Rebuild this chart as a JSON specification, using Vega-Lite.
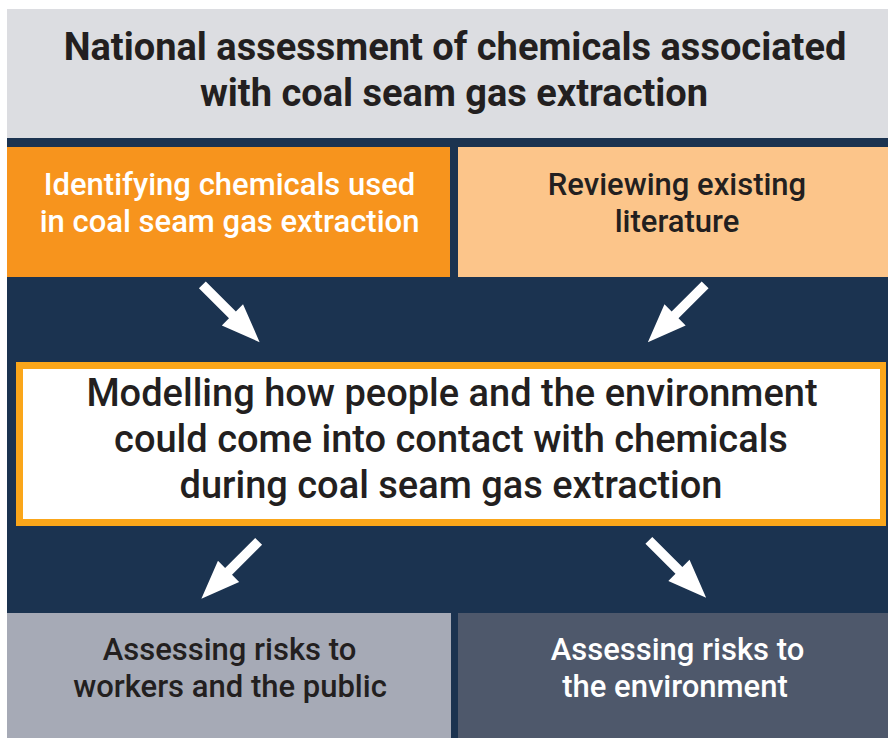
{
  "$schema": "https://vega.github.io/schema/vega-lite/v6.json",
  "width": 888,
  "height": 738,
  "padding": 0,
  "autosize": {"type": "none"},
  "background": "white",
  "config": {"view": {"stroke": null}},
  "datasets": {
    "boxes": [
      {"name": "header", "x0": 7, "x1": 888, "y0": 9, "y1": 138},
      {"name": "background", "x0": 7, "x1": 888, "y0": 138, "y1": 738},
      {"name": "identify", "x0": 7, "x1": 450, "y0": 147, "y1": 277},
      {"name": "review", "x0": 458, "x1": 888, "y0": 147, "y1": 277},
      {"name": "model_border", "x0": 16, "x1": 886, "y0": 362, "y1": 526},
      {"name": "model", "x0": 23, "x1": 880, "y0": 369, "y1": 519},
      {"name": "workers", "x0": 7, "x1": 451, "y0": 613, "y1": 738},
      {"name": "environment", "x0": 458, "x1": 888, "y0": 613, "y1": 738}
    ],
    "arrows": [
      {"from": "identify", "to": "model", "x": 231, "y": 313.5, "angle": 45},
      {"from": "review", "to": "model", "x": 676.5, "y": 313.5, "angle": 135},
      {"from": "model", "to": "workers", "x": 230, "y": 570, "angle": 135},
      {"from": "model", "to": "environment", "x": 677.5, "y": 569, "angle": 45}
    ],
    "labels": [
      {"group": "title", "line": "National assessment of chemicals associated", "x": 455, "y": 60},
      {"group": "title", "line": "with coal seam gas extraction", "x": 454, "y": 106},
      {"group": "identify", "line": "Identifying chemicals used", "x": 229.5, "y": 195},
      {"group": "identify", "line": "in coal seam gas extraction", "x": 229.5, "y": 232},
      {"group": "review", "line": "Reviewing existing", "x": 677, "y": 195},
      {"group": "review", "line": "literature", "x": 677, "y": 232},
      {"group": "model", "line": "Modelling how people and the environment", "x": 452, "y": 406},
      {"group": "model", "line": "could come into contact with chemicals", "x": 451, "y": 452},
      {"group": "model", "line": "during coal seam gas extraction", "x": 451, "y": 498},
      {"group": "workers", "line": "Assessing risks to", "x": 229.5, "y": 660},
      {"group": "workers", "line": "workers and the public", "x": 230, "y": 697},
      {"group": "environment", "line": "Assessing risks to", "x": 677.5, "y": 660},
      {"group": "environment", "line": "the environment", "x": 675, "y": 697}
    ]
  },
  "layer": [
    {
      "data": {"name": "boxes"},
      "mark": {"type": "rect", "strokeWidth": 0},
      "encoding": {
        "x": {"field": "x0", "type": "quantitative", "scale": {"domain": [0, 888], "nice": false, "zero": false}, "axis": null},
        "x2": {"field": "x1"},
        "y": {"field": "y0", "type": "quantitative", "scale": {"domain": [0, 738], "nice": false, "zero": false, "reverse": true}, "axis": null},
        "y2": {"field": "y1"},
        "color": {
          "field": "name",
          "type": "nominal",
          "legend": null,
          "scale": {
            "domain": ["header", "background", "identify", "review", "model_border", "model", "workers", "environment"],
            "range": ["#dcdde1", "#1b3350", "#f7941d", "#fcc58a", "#faa61a", "#ffffff", "#a6aab6", "#4e586b"]
          }
        }
      }
    },
    {
      "data": {"name": "arrows"},
      "mark": {
        "type": "point",
        "shape": "M-1,-0.12 L0.05,-0.12 L0.05,-0.37 L1,0 L0.05,0.37 L0.05,0.12 L-1,0.12 Z",
        "filled": true,
        "opacity": 1,
        "color": "#ffffff",
        "size": 6561,
        "strokeWidth": 0
      },
      "encoding": {
        "x": {"field": "x", "type": "quantitative", "axis": null},
        "y": {"field": "y", "type": "quantitative", "axis": null},
        "angle": {"field": "angle", "type": "quantitative", "scale": {"domain": [0, 360], "range": [0, 360]}}
      }
    },
    {
      "data": {"name": "labels"},
      "transform": [{"filter": "datum.group === 'title'"}],
      "mark": {"type": "text", "font": "Roboto", "fontWeight": "bold", "fontSize": 38, "color": "#231f20", "align": "center", "baseline": "alphabetic"},
      "encoding": {
        "x": {"field": "x", "type": "quantitative", "axis": null},
        "y": {"field": "y", "type": "quantitative", "axis": null},
        "text": {"field": "line"}
      }
    },
    {
      "data": {"name": "labels"},
      "transform": [{"filter": "datum.group === 'identify' || datum.group === 'environment'"}],
      "mark": {"type": "text", "font": "Roboto", "fontWeight": 500, "fontSize": 31, "color": "#ffffff", "align": "center", "baseline": "alphabetic"},
      "encoding": {
        "x": {"field": "x", "type": "quantitative", "axis": null},
        "y": {"field": "y", "type": "quantitative", "axis": null},
        "text": {"field": "line"}
      }
    },
    {
      "data": {"name": "labels"},
      "transform": [{"filter": "datum.group === 'review' || datum.group === 'workers'"}],
      "mark": {"type": "text", "font": "Roboto", "fontWeight": 500, "fontSize": 31, "color": "#231f20", "align": "center", "baseline": "alphabetic"},
      "encoding": {
        "x": {"field": "x", "type": "quantitative", "axis": null},
        "y": {"field": "y", "type": "quantitative", "axis": null},
        "text": {"field": "line"}
      }
    },
    {
      "data": {"name": "labels"},
      "transform": [{"filter": "datum.group === 'model'"}],
      "mark": {"type": "text", "font": "Roboto", "fontWeight": 500, "fontSize": 38, "color": "#231f20", "align": "center", "baseline": "alphabetic"},
      "encoding": {
        "x": {"field": "x", "type": "quantitative", "axis": null},
        "y": {"field": "y", "type": "quantitative", "axis": null},
        "text": {"field": "line"}
      }
    }
  ]
}
